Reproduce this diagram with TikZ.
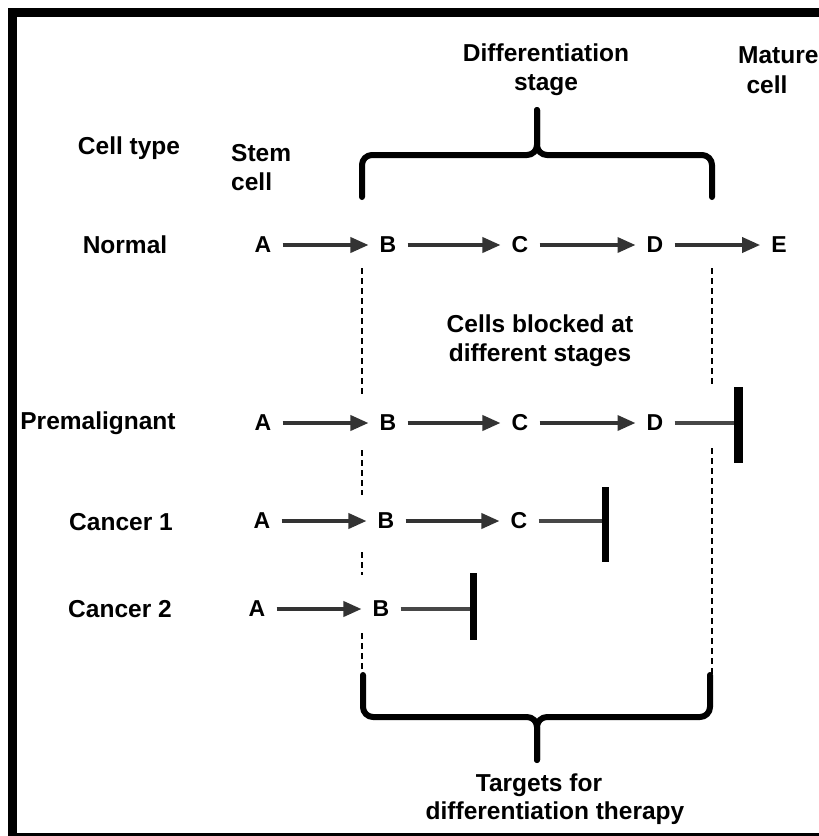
\documentclass[tikz,border=0pt]{standalone}
\usepackage{fontspec}
\setmainfont{Liberation Sans}
\usetikzlibrary{arrows.meta}
\begin{document}
\begin{tikzpicture}[x=1pt,y=-1pt,
  lbl/.style={font=\bfseries\fontsize{24.5}{29}\selectfont, inner sep=0pt, align=center},
  cellnode/.style={font=\bfseries\fontsize{23}{27}\selectfont, inner ysep=2pt, inner xsep=11pt},
  prog/.style={draw=black!80, line width=3.6pt, -{Triangle[length=18pt,width=15pt]}},
  blockline/.style={draw=black!72, line width=3.6pt},
  blockbar/.style={draw=black, line width=7pt},
  guide/.style={draw=black, line width=1.3pt, dash pattern=on 6pt off 4pt},
  bracket/.style={draw=black, line width=6pt, line cap=round, line join=round, rounded corners=10pt}]
\useasboundingbox (0,0) rectangle (819,836);
% frame
\fill[black] (8,8) rectangle (819,17);
\fill[black] (8,8) rectangle (17,836);
\fill[black] (8,833) rectangle (819,836);

% headings
\node[lbl] (diff) at (546,70) {Differentiation\\stage};
\node[lbl, anchor=west] (mat) at (738,55) {Mature};
\node[lbl] (matc) at (767,85) {cell};
\node[lbl] (ctype) at (129,148) {Cell type};
\node[lbl, anchor=west, align=left] (stem) at (231,168) {Stem\\cell};
\node[lbl] (blocked) at (540,341) {Cells blocked at\\different stages};
\node[lbl] (tg1) at (539,785) {Targets for};
\node[lbl] (tg2) at (555,813) {differentiation therapy};

% row labels
\node[lbl] (rn) at (125,245) {Normal};
\node[lbl] (rp) at (98,423) {Premalignant};
\node[lbl] (rc1) at (121,522) {Cancer 1};
\node[lbl] (rc2) at (120,609) {Cancer 2};

% dashed guides
\draw[guide] (362,268) -- (362,395);
\draw[guide] (362,450) -- (362,495);
\draw[guide] (362,552) -- (362,575);
\draw[guide] (362,633) -- (362,680);
\draw[guide] (712,268) -- (712,385);
\draw[guide] (712,448) -- (712,680);

% brackets
\draw[bracket] (362,197) -- (362,155) -- (537,155) -- (537,110);
\draw[bracket] (712,197) -- (712,155) -- (537,155) -- (537,110);
\draw[bracket] (363,675) -- (363,717) -- (537,717) -- (537,760);
\draw[bracket] (710,675) -- (710,717) -- (537,717) -- (537,760);

% normal row
\node[cellnode] (nA) at (263,245) {A};
\node[cellnode] (nB) at (388,245) {B};
\node[cellnode] (nC) at (520,245) {C};
\node[cellnode] (nD) at (655,245) {D};
\node[cellnode] (nE) at (779,245) {E};
\draw[prog] (nA) -- (nB);
\draw[prog] (nB) -- (nC);
\draw[prog] (nC) -- (nD);
\draw[prog] (nD) -- (nE);

% premalignant row
\node[cellnode] (pA) at (263,423) {A};
\node[cellnode] (pB) at (388,423) {B};
\node[cellnode] (pC) at (520,423) {C};
\node[cellnode] (pD) at (655,423) {D};
\coordinate (pX) at (736,423);
\draw[prog] (pA) -- (pB);
\draw[prog] (pB) -- (pC);
\draw[prog] (pC) -- (pD);
\draw[blockline] (pD) -- (pX);
\draw[blockbar, line width=9pt] (738,387) -- (738,463);

% cancer 1 row
\node[cellnode] (aA) at (262,521) {A};
\node[cellnode] (aB) at (386,521) {B};
\node[cellnode] (aC) at (519,521) {C};
\coordinate (aX) at (604,521);
\draw[prog] (aA) -- (aB);
\draw[prog] (aB) -- (aC);
\draw[blockline] (aC) -- (aX);
\draw[blockbar] (605,487) -- (605,562);

% cancer 2 row
\node[cellnode] (bA) at (257,609) {A};
\node[cellnode] (bB) at (381,609) {B};
\coordinate (bX) at (472,609);
\draw[prog] (bA) -- (bB);
\draw[blockline] (bB) -- (bX);
\draw[blockbar] (473,573) -- (473,640);
\end{tikzpicture}
\end{document}
